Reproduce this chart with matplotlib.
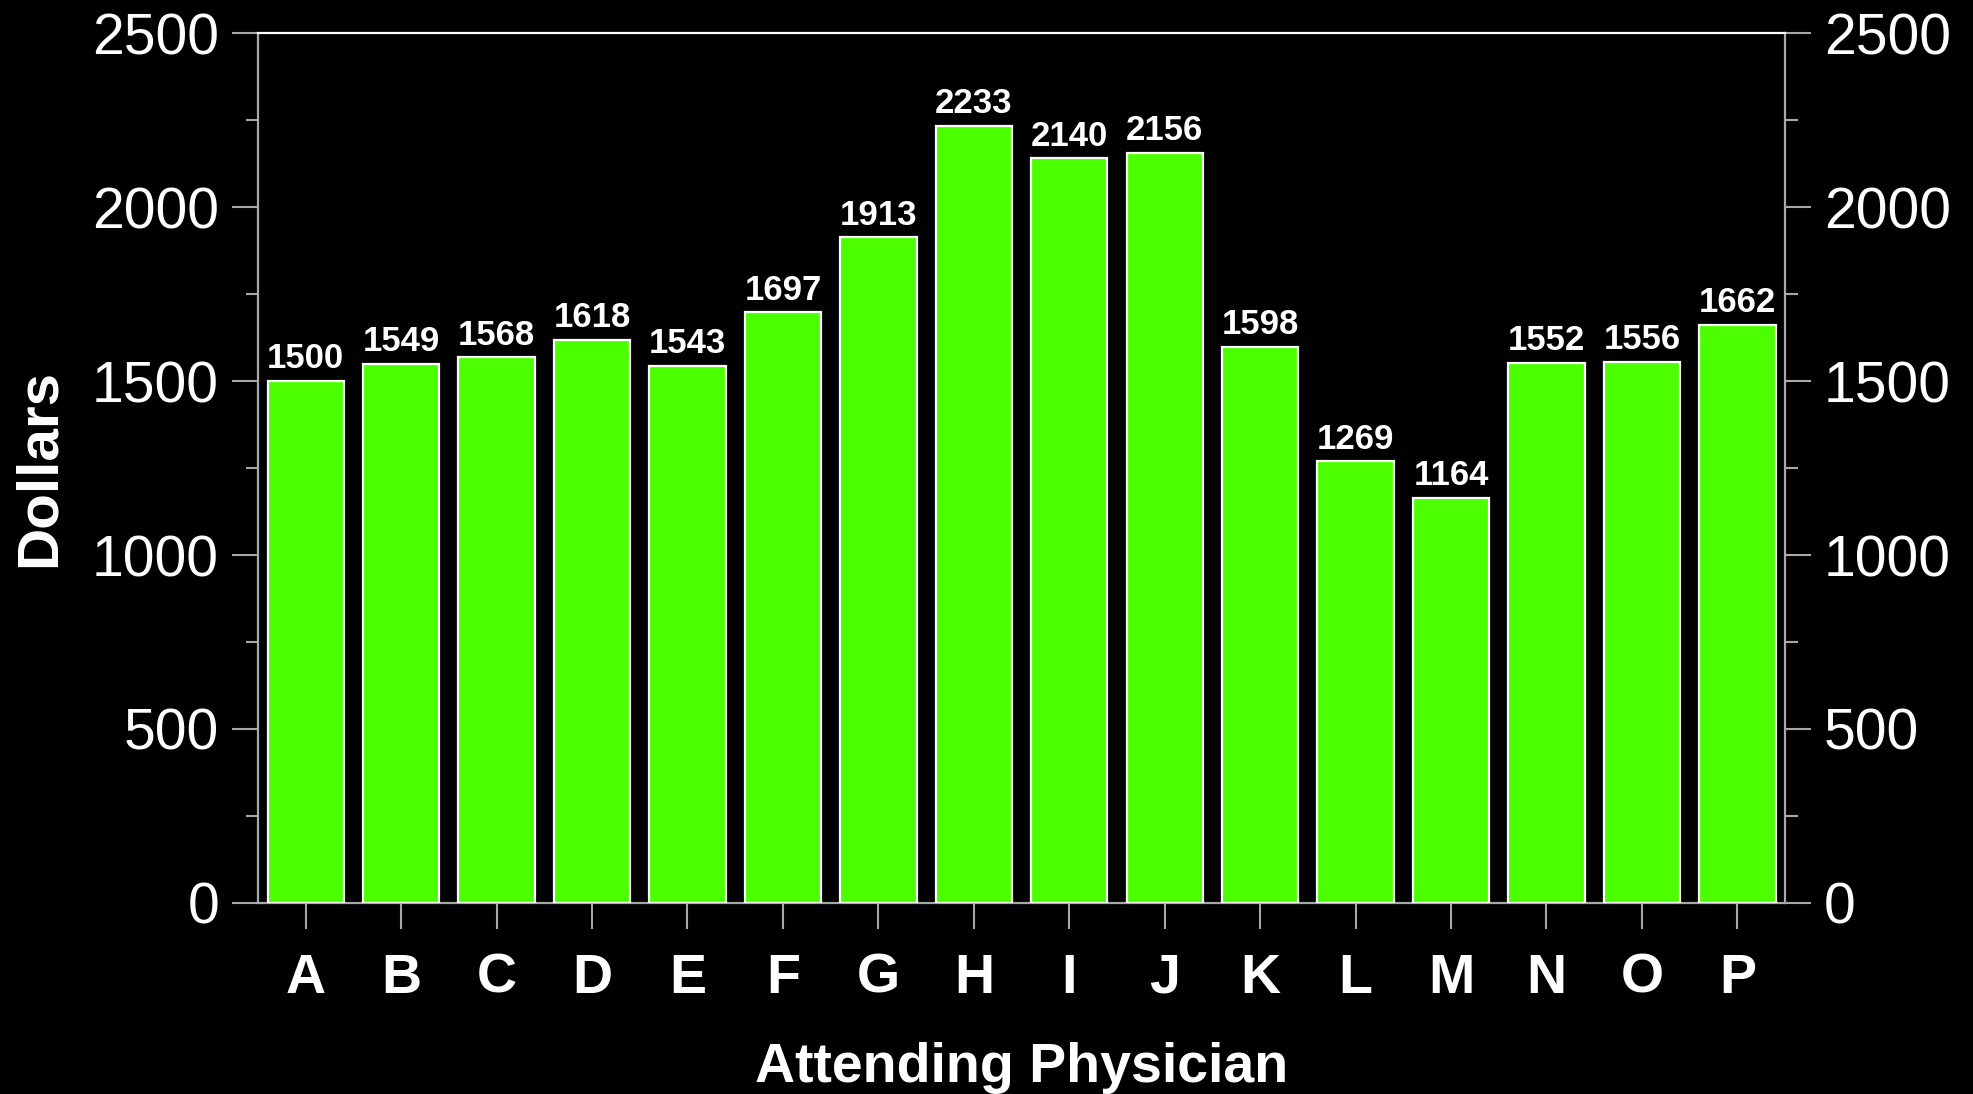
import matplotlib
matplotlib.use("Agg")
import matplotlib.pyplot as plt
from matplotlib.ticker import MultipleLocator

# Average charges per attending physician
physicians = ["A", "B", "C", "D", "E", "F", "G", "H", "I", "J", "K", "L", "M", "N", "O", "P"]
dollars = [1500, 1549, 1568, 1618, 1543, 1697, 1913, 2233, 2140, 2156, 1598, 1269, 1164, 1552, 1556, 1662]
y_ticks = [0, 500, 1000, 1500, 2000, 2500]

plt.rcParams["font.family"] = ["Liberation Sans", "DejaVu Sans"]

fig = plt.figure(figsize=(19.74, 10.94), dpi=100, facecolor="black")
ax = fig.add_axes([0.1307, 0.1746, 0.7736, 0.7952], facecolor="black")

x = range(len(physicians))
bars = ax.bar(x, dollars, width=0.8, color="#4cff00", edgecolor="white", linewidth=1.6, zorder=3)

for xi, v in zip(x, dollars):
    ax.annotate(str(v), (xi, v), xytext=(0, 4), textcoords="offset points",
                ha="center", va="bottom", color="white", fontsize=25, fontweight="bold")

ax.set_xlim(-0.5, len(physicians) - 0.5)
ax.set_ylim(0, 2500)
ax.set_xticks(list(x))
ax.set_xticklabels(physicians, fontsize=40, fontweight="bold", color="white")
ax.set_yticks(y_ticks)
ax.set_yticklabels([str(t) for t in y_ticks], fontsize=41, color="white")
ax.yaxis.set_minor_locator(MultipleLocator(250))

gray = "#a8a8a8"
for s in ax.spines.values():
    s.set_color(gray)
    s.set_linewidth(1.6)
ax.spines["top"].set_color("white")

ax.tick_params(axis="y", which="major", direction="out", length=19, width=1.5, color=gray,
               left=True, right=True, labelleft=True, labelright=True, pad=9)
ax.tick_params(axis="y", which="minor", direction="out", length=9, width=1.5, color=gray,
               left=True, right=True)
ax.tick_params(axis="x", which="major", direction="out", length=19, width=1.5, color=gray, pad=17)

ax.set_ylabel("Dollars", fontsize=42, fontweight="bold", color="white", labelpad=18)
ax.set_xlabel("Attending Physician", fontsize=40, fontweight="bold", color="white", labelpad=27)

fig.savefig("out.png", dpi=100, facecolor="black")
